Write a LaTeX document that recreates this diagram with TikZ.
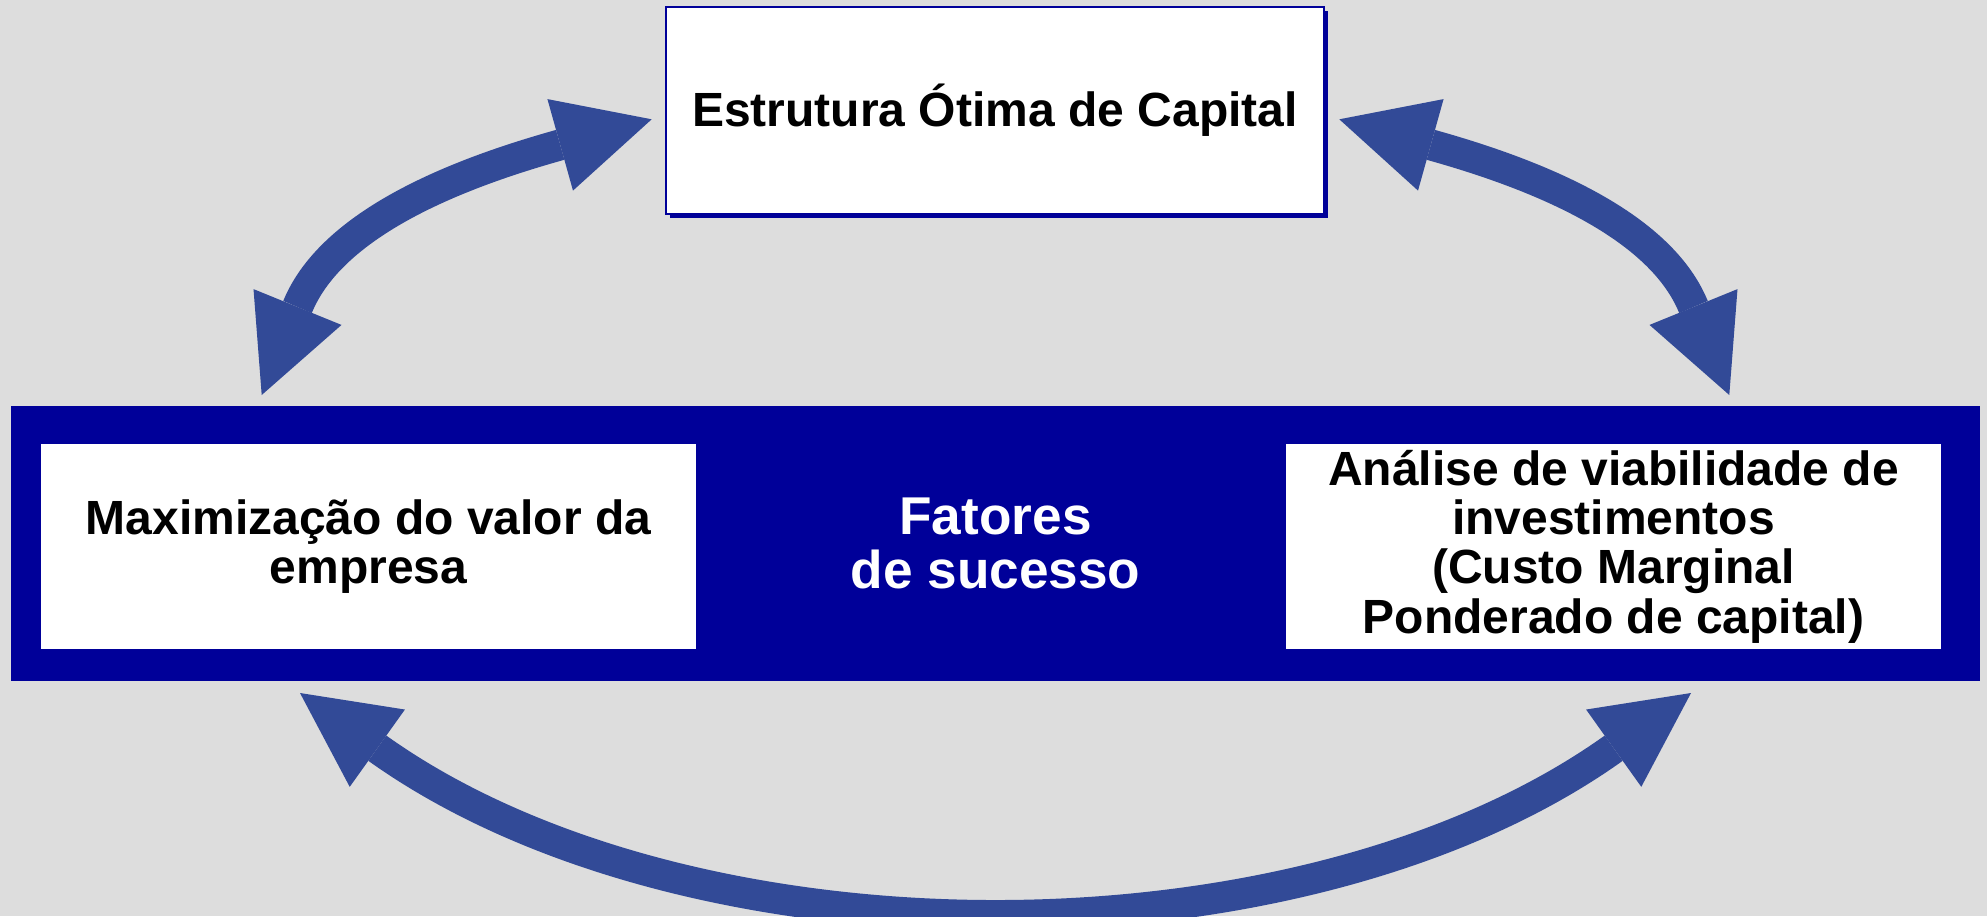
\documentclass[tikz,border=0pt]{standalone}
\usepackage{fontspec}
\setmainfont{Liberation Sans}
\usetikzlibrary{arrows.meta,shadows}
\definecolor{bg}{RGB}{221,221,221}
\definecolor{dblue}{RGB}{0,0,153}
\definecolor{arrowblue}{RGB}{50,74,151}
\begin{document}
\begin{tikzpicture}[x=0.5pt,y=-0.5pt,
  txt/.style={font=\fontsize{24}{24.7}\selectfont\bfseries, align=center},
  topbox/.style={draw=dblue, line width=1pt, fill=white, inner sep=0pt,
    minimum width=329pt, minimum height=103.5pt, txt,
    drop shadow={shadow xshift=2pt, shadow yshift=-2pt, fill=dblue, opacity=1}},
  framebox/.style={fill=dblue, inner sep=0pt, minimum width=984.5pt,
    minimum height=137.5pt, align=center, text=white,
    font=\fontsize{26.6}{26.8}\selectfont\bfseries},
  whitebox/.style={fill=white, inner sep=0pt, minimum width=327.5pt,
    minimum height=102.5pt, txt},
  bigarrow/.style={draw=arrowblue, line width=15.5pt,
    >={Triangle[length=47.5pt,width=47.5pt,line width=0pt]}, <->}]
\fill[bg] (0,0) rectangle (1987,916);
\useasboundingbox (0,0) rectangle (1987,916);

\node[topbox] (otima) at (995,110.5) {Estrutura Ótima de Capital};
\node[framebox] (fatores) at (995.5,543.5) {Fatores\\de sucesso};
\node[whitebox] (maxi) at (368.5,546.5) {Maximização do valor da\\empresa};
\node[whitebox] (analise) at (1613.5,546.5) {Análise de viabilidade de\\investimentos\\(Custo Marginal\\Ponderado de capital)};

\coordinate (tlA) at (261.7,395);
\coordinate (tlB) at (651.7,119.3);
\coordinate (trA) at (1729.3,395);
\coordinate (trB) at (1339.3,119.3);
\coordinate (bL) at (300,693);
\coordinate (bR) at (1691,693);

\draw[bigarrow] (tlA) .. controls (333.3,219.1) and (468.7,170.4) .. (tlB);
\draw[bigarrow] (trA) .. controls (1657.7,219.1) and (1522.3,170.4) .. (trB);
\draw[bigarrow] (bL) .. controls (689.9,971.3) and (1301.1,971.3) .. (bR);
\end{tikzpicture}
\end{document}
